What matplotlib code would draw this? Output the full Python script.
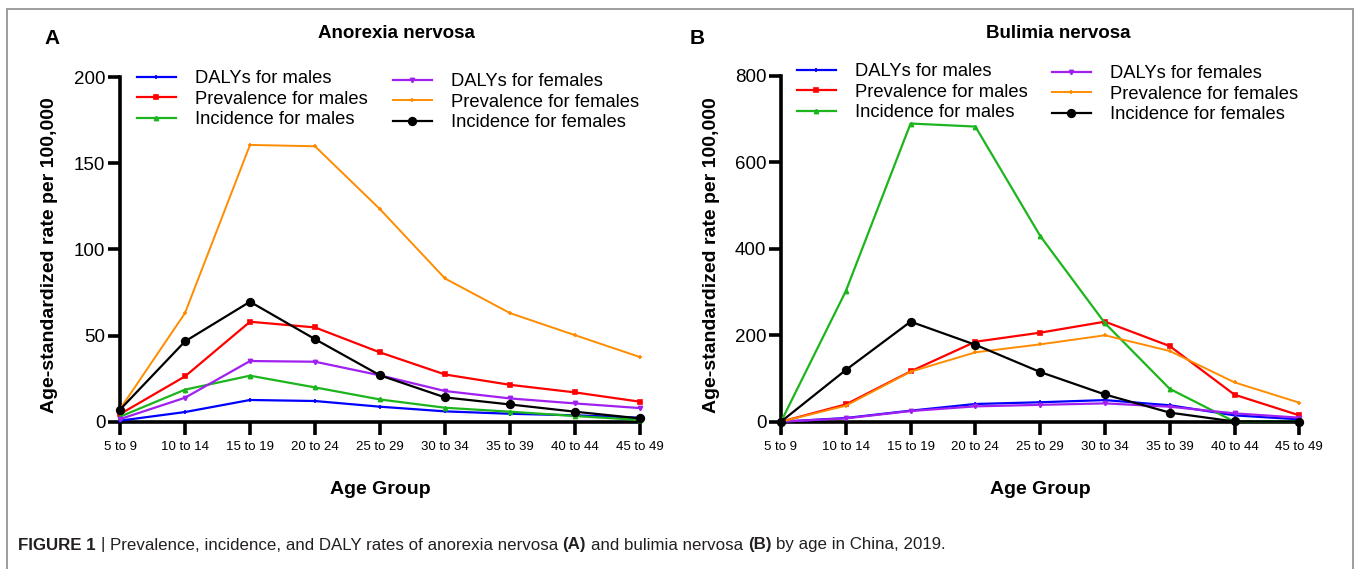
import matplotlib
matplotlib.use("Agg")
import matplotlib.pyplot as plt
from matplotlib.patches import Rectangle
from matplotlib.transforms import IdentityTransform

# ---------------- data ----------------
ages = ['5 to 9', '10 to 14', '15 to 19', '20 to 24', '25 to 29',
        '30 to 34', '35 to 39', '40 to 44', '45 to 49']

series_labels = ['DALYs for males', 'Prevalence for males', 'Incidence for males',
                 'DALYs for females', 'Prevalence for females', 'Incidence for females']

# Anorexia nervosa
an_daly_m = [0.6, 5.6, 12.6, 12.0, 8.7, 6.0, 4.6, 3.7, 2.3]
an_prev_m = [4.4, 26.3, 58.0, 54.7, 40.2, 27.4, 21.4, 17.0, 11.6]
an_inc_m = [2.9, 18.6, 26.7, 19.9, 12.9, 8.1, 5.8, 3.3, 1.0]
an_daly_f = [1.5, 13.9, 35.2, 34.8, 26.9, 17.8, 13.5, 10.6, 7.9]
an_prev_f = [7.3, 63.0, 160.6, 159.8, 123.3, 83.1, 63.0, 50.2, 37.5]
an_inc_f = [7.0, 46.6, 69.6, 47.9, 26.9, 14.1, 10.0, 5.8, 1.9]

# Bulimia nervosa
bn_daly_m = [0, 8.5, 25.5, 41.0, 45.0, 50.0, 38.0, 14.7, 5.4]
bn_prev_m = [0, 40.0, 116.5, 185.0, 206.0, 231.5, 175.0, 62.5, 14.7]
bn_inc_m = [0, 302.0, 690.0, 683.0, 430.0, 228.0, 76.0, 0, 0]
bn_daly_f = [0, 7.7, 24.7, 35.5, 39.0, 42.4, 34.7, 19.3, 9.3]
bn_prev_f = [0, 37.0, 115.7, 160.5, 179.0, 200.0, 163.6, 91.0, 44.0]
bn_inc_f = [0, 119.6, 231.5, 178.0, 115.0, 63.0, 21.0, 0.5, 0]

an_yticks = [0, 50, 100, 150, 200]
bn_yticks = [0, 200, 400, 600, 800]

# ---------------- style ----------------
plt.rcParams['font.family'] = ['Liberation Sans', 'DejaVu Sans']

colors = ['#0000FF', '#FF0000', '#1DB51D', '#A020F0', '#FF8C00', '#000000']
markers = ['+', 's', '^', 'v', '+', 'o']
msizes = [3.5, 3, 3, 3, 3.5, 5.5]
lwidths = [1.6, 1.6, 1.6, 1.6, 1.4, 1.6]

W, H = 1358, 569
fig = plt.figure(figsize=(W / 100, H / 100), dpi=100)


def fx(px):
    return px / W


def fy(py):
    return 1 - py / H


def make_panel(left, right, top, bottom, data, yticks, title, title_xy, letter, letter_xy,
               ylab_x, leg1, leg2):
    ax = fig.add_axes([fx(left), fy(bottom), fx(right - left), fy(top) - fy(bottom)])
    x = list(range(len(ages)))
    handles = []
    for vals, lab, c, m, ms, lw in zip(data, series_labels, colors, markers, msizes, lwidths):
        h, = ax.plot(x, vals, color=c, marker=m, ms=ms, lw=lw, mew=1.2,
                     label=lab, clip_on=False, zorder=3)
        handles.append(h)
    ax.set_xlim(0, len(ages) - 1)
    ax.set_ylim(yticks[0], yticks[-1])
    ax.set_xticks(x)
    ax.set_xticklabels(ages, fontsize=9.5)
    ax.set_yticks(yticks)
    ax.set_yticklabels([str(t) for t in yticks], fontsize=13.5)
    for s in ['top', 'right']:
        ax.spines[s].set_visible(False)
    for s in ['left', 'bottom']:
        ax.spines[s].set_linewidth(2.6)
        ax.spines[s].set_capstyle('projecting')
    ax.tick_params(axis='both', length=9, width=2.6, direction='out', color='black')
    ax.tick_params(axis='x', pad=5)
    ax.tick_params(axis='y', pad=1.5)
    ax.patch.set_alpha(0)

    ax.set_xlabel('Age Group', fontsize=14, fontweight='bold')
    ax.xaxis.set_label_coords(0.5, (bottom - 489) / (bottom - top), transform=ax.transAxes)
    ax.xaxis.label.set_va('center')
    ax.set_ylabel('Age-standardized rate per 100,000', fontsize=14, fontweight='bold')
    ax.yaxis.set_label_coords((ylab_x - left) / (right - left),
                              (bottom - 255.5) / (bottom - top), transform=ax.transAxes)
    ax.yaxis.label.set_va('center')

    fig.text(fx(title_xy[0]), fy(title_xy[1]), title, fontsize=13.5, fontweight='bold',
             ha='center', va='center')
    fig.text(fx(letter_xy[0]), fy(letter_xy[1]), letter, fontsize=15, fontweight='bold',
             ha='center', va='center')

    legkw = dict(frameon=False, fontsize=13.2, handlelength=2.1, handletextpad=1.05,
                 labelspacing=0.2, borderpad=0, borderaxespad=0, loc='upper left')
    l1 = ax.legend(handles[:3], series_labels[:3],
                   bbox_to_anchor=(leg1[0], leg1[1]), bbox_transform=IdentityTransform(), **legkw)
    ax.add_artist(l1)
    ax.legend(handles[3:], series_labels[3:],
              bbox_to_anchor=(leg2[0], leg2[1]), bbox_transform=IdentityTransform(), **legkw)
    return ax


# legend anchors in display pixels (origin bottom-left)
make_panel(120, 640, 77, 421.7,
           [an_daly_m, an_prev_m, an_inc_m, an_daly_f, an_prev_f, an_inc_f],
           an_yticks, 'Anorexia nervosa', (396, 33), 'A', (52, 38), 50,
           (137, H - 70), (393, H - 73))
make_panel(781, 1299.3, 76, 421.7,
           [bn_daly_m, bn_prev_m, bn_inc_m, bn_daly_f, bn_prev_f, bn_inc_f],
           bn_yticks, 'Bulimia nervosa', (1058, 33), 'B', (697, 38), 712,
           (797, H - 63), (1052, H - 65))

# outer frame
fig.patches.append(Rectangle((fx(7), fy(H + 10)), fx(1353 - 7), fy(9) - fy(H + 10),
                             transform=fig.transFigure, fill=False, edgecolor='#8c8c8c',
                             lw=1.2, zorder=0))

# caption with mixed weights
segments = [('FIGURE 1', 'bold'), ('|', 'normal'),
            ('Prevalence, incidence, and DALY rates of anorexia nervosa', 'normal'),
            ('(A)', 'bold'), ('and bulimia nervosa', 'normal'), ('(B)', 'bold'),
            ('by age in China, 2019.', 'normal')]
cap_size = 12.2
cap_color = '#231f20'
fig.canvas.draw()
renderer = fig.canvas.get_renderer()
t1 = fig.text(0, 0, 'a a', fontsize=cap_size)
t2 = fig.text(0, 0, 'aa', fontsize=cap_size)
space_w = t1.get_window_extent(renderer).width - t2.get_window_extent(renderer).width
t1.remove()
t2.remove()
xpos = 18.0
for txt, wt in segments:
    t = fig.text(fx(xpos), fy(545), txt, fontsize=cap_size, fontweight=wt,
                 color=cap_color, ha='left', va='center')
    w = t.get_window_extent(renderer).width
    xpos += w + space_w

fig.savefig('out.png', dpi=100)
